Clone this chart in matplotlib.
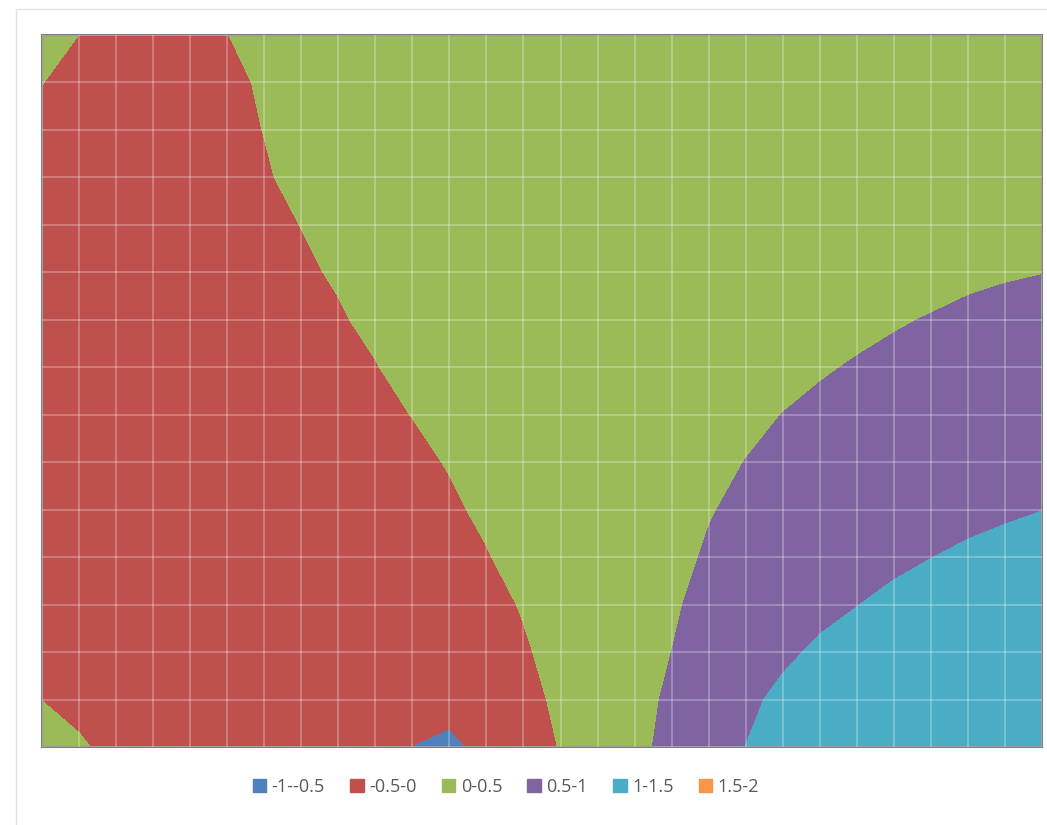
import numpy as np
import matplotlib.pyplot as plt
from matplotlib.patches import Patch, Rectangle

row_00 = [0.10, -0.003, -0.05, -0.03, -0.02, -0.001, 0.016, 0.03, 0.05, 0.06, 0.08, 0.10, 0.11, 0.13,
          0.14, 0.16, 0.18, 0.19, 0.21, 0.22, 0.24, 0.25, 0.27, 0.29, 0.30, 0.32, 0.33, 0.35]
row_01 = [0.003, -0.08, -0.06, -0.05, -0.03, -0.012, 0.006, 0.02, 0.04, 0.06, 0.08, 0.09, 0.11, 0.13,
          0.15, 0.16, 0.18, 0.20, 0.21, 0.23, 0.25, 0.27, 0.28, 0.30, 0.32, 0.34, 0.35, 0.37]
row_02 = [-0.05, -0.09, -0.075, -0.056, -0.037, -0.018, 0.001, 0.02, 0.04, 0.06, 0.08, 0.10, 0.12, 0.13,
          0.15, 0.17, 0.19, 0.21, 0.23, 0.25, 0.27, 0.29, 0.31, 0.32, 0.34, 0.36, 0.38, 0.40]
row_03 = [-0.13, -0.11, -0.09, -0.07, -0.05, -0.027, -0.006, 0.015, 0.036, 0.06, 0.08, 0.10, 0.12, 0.14,
          0.16, 0.18, 0.20, 0.22, 0.24, 0.26, 0.28, 0.31, 0.33, 0.35, 0.37, 0.39, 0.41, 0.43]
row_04 = [-0.16, -0.14, -0.11, -0.09, -0.07, -0.045, -0.022, 0.001, 0.024, 0.05, 0.07, 0.09, 0.12, 0.14,
          0.16, 0.18, 0.21, 0.23, 0.25, 0.28, 0.30, 0.32, 0.35, 0.37, 0.39, 0.41, 0.44, 0.46]
row_05 = [-0.19, -0.17, -0.14, -0.12, -0.09, -0.065, -0.04, -0.015, 0.010, 0.036, 0.06, 0.09, 0.11, 0.14,
          0.16, 0.19, 0.21, 0.24, 0.26, 0.29, 0.31, 0.34, 0.36, 0.39, 0.41, 0.44, 0.465, 0.49]
row_06 = [-0.27, -0.24, -0.21, -0.17, -0.14, -0.11, -0.075, -0.043, -0.010, 0.022, 0.055, 0.09, 0.12, 0.15,
          0.18, 0.22, 0.25, 0.28, 0.31, 0.35, 0.38, 0.41, 0.44, 0.476, 0.513, 0.56, 0.61, 0.66]
row_07 = [-0.30, -0.30, -0.29, -0.25, -0.21, -0.17, -0.13, -0.085, -0.045, -0.005, 0.035, 0.075, 0.12, 0.16,
          0.20, 0.24, 0.28, 0.32, 0.36, 0.40, 0.44, 0.476, 0.518, 0.56, 0.61, 0.66, 0.70, 0.75]
row_08 = [-0.30, -0.30, -0.30, -0.30, -0.30, -0.25, -0.20, -0.15, -0.10, -0.047, 0.003, 0.05, 0.10, 0.15,
          0.20, 0.25, 0.30, 0.35, 0.40, 0.452, 0.502, 0.55, 0.60, 0.65, 0.69, 0.74, 0.79, 0.84]
row_09 = [-0.30, -0.30, -0.30, -0.30, -0.30, -0.30, -0.29, -0.23, -0.17, -0.11, -0.049, 0.012, 0.074, 0.135,
          0.20, 0.26, 0.32, 0.38, 0.442, 0.503, 0.555, 0.61, 0.66, 0.71, 0.76, 0.82, 0.87, 0.92]
row_10 = [-0.30, -0.30, -0.30, -0.30, -0.30, -0.30, -0.30, -0.30, -0.26, -0.18, -0.11, -0.035, 0.039, 0.11,
          0.19, 0.26, 0.34, 0.41, 0.486, 0.545, 0.60, 0.66, 0.71, 0.77, 0.82, 0.88, 0.93, 0.99]
row_11 = [-0.30, -0.30, -0.30, -0.30, -0.30, -0.30, -0.30, -0.30, -0.30, -0.28, -0.19, -0.10, -0.014, 0.077,
          0.17, 0.26, 0.35, 0.437, 0.523, 0.60, 0.68, 0.76, 0.84, 0.91, 0.992, 1.07, 1.15, 1.23]
row_12 = [-0.30, -0.30, -0.30, -0.30, -0.30, -0.30, -0.30, -0.30, -0.30, -0.30, -0.30, -0.20, -0.092, 0.020,
          0.13, 0.24, 0.36, 0.467, 0.573, 0.68, 0.78, 0.89, 0.990, 1.094, 1.17, 1.24, 1.30, 1.35]
row_13 = [-0.30, -0.30, -0.30, -0.30, -0.30, -0.30, -0.30, -0.30, -0.30, -0.30, -0.30, -0.30, -0.17, -0.035,
          0.10, 0.23, 0.37, 0.499, 0.64, 0.78, 0.923, 1.063, 1.15, 1.23, 1.29, 1.34, 1.38, 1.41]
row_14 = [-0.01, -0.30, -0.30, -0.30, -0.30, -0.30, -0.30, -0.30, -0.30, -0.30, -0.30, -0.275, -0.27, -0.103,
          0.060, 0.22, 0.386, 0.554, 0.73, 0.911, 1.089, 1.18, 1.26, 1.32, 1.36, 1.39, 1.42, 1.44]
row_15 = [0.25, 0.12, -0.30, -0.30, -0.30, -0.30, -0.30, -0.30, -0.30, -0.41, -0.51, -0.65, -0.32, -0.181,
          0.014, 0.208, 0.403, 0.60, 0.80, 1.002, 1.15, 1.25, 1.32, 1.37, 1.40, 1.42, 1.44, 1.45]

levels = [-1, -0.5, 0, 0.5, 1, 1.5, 2]
band_labels = ['-1--0.5', '-0.5-0', '0-0.5', '0.5-1', '1-1.5', '1.5-2']
band_colors = ['#4F81BD', '#C0504D', '#9BBB59', '#8064A2', '#4BACC6', '#F79646']

Z = np.array([row_00, row_01, row_02, row_03, row_04, row_05, row_06, row_07,
              row_08, row_09, row_10, row_11, row_12, row_13, row_14, row_15])
cols = np.arange(Z.shape[1])
rows = np.arange(Z.shape[0])

fig = plt.figure(figsize=(10.47, 8.25), dpi=100)
ax = fig.add_axes([42 / 1047, 1 - 747 / 825, 1000 / 1047, 712 / 825])

cs = ax.contourf(cols, rows, Z, levels=levels, colors=band_colors, zorder=1)
cs.set_edgecolor('face')
cs.set_linewidth(0.6)

ax.set_xlim(cols[0], cols[-1])
ax.set_ylim(rows[-1], rows[0])
ax.set_xticks(cols)
ax.set_yticks(rows)
ax.tick_params(length=0, labelbottom=False, labelleft=False)
ax.set_axisbelow(False)
ax.grid(True, color='white', alpha=0.3, linewidth=1.2)
for s in ax.spines.values():
    s.set_color('#7f7f7f')
    s.set_linewidth(1.5)

handles = [Patch(facecolor=c, edgecolor=c) for c in band_colors]
fig.legend(handles, band_labels, loc='center', bbox_to_anchor=(506 / 1047, 1 - 787 / 825),
           ncol=6, frameon=False, handlelength=0.75, handleheight=0.75, handletextpad=0.3,
           columnspacing=1.4, prop={'family': 'Open Sans', 'size': 13}, labelcolor='#595959')

# faint chart-area border
fig.add_artist(Rectangle((16 / 1047, -0.1), 1.2, 1 - 9 / 825 + 0.1, transform=fig.transFigure,
                         fill=False, edgecolor='#e3e3e3', linewidth=1))

fig.savefig('out.png', dpi=100)
